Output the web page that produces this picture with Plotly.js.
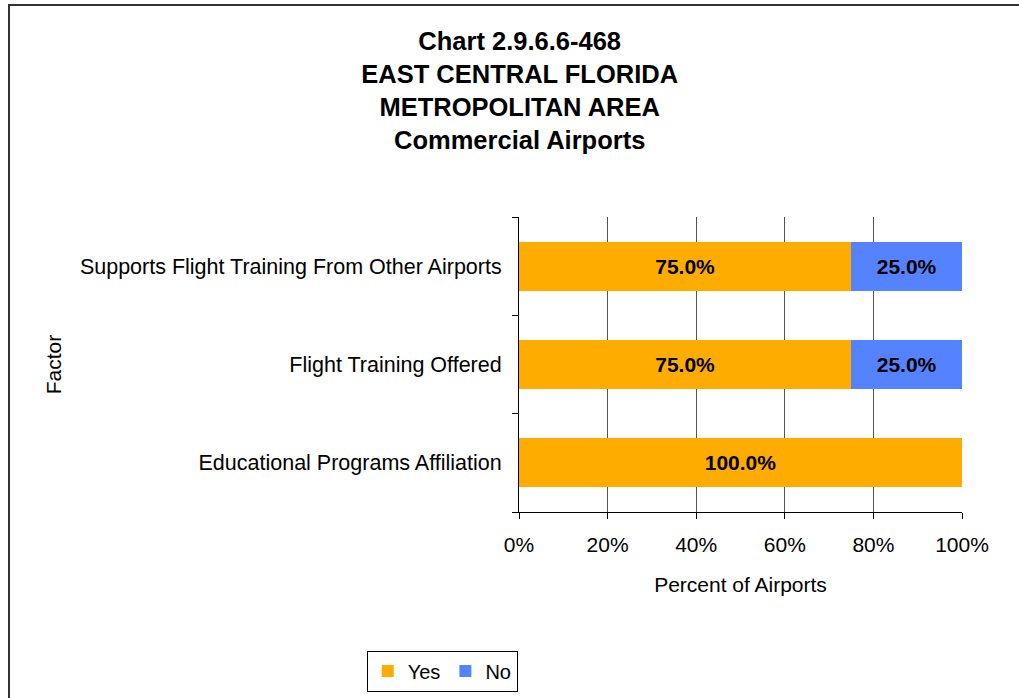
<!DOCTYPE html>
<html>
<head>
<meta charset="utf-8">
<script src="https://cdn.plot.ly/plotly-3.0.1.min.js"></script>
<style>
    body { margin: 0; background: #fff; }
    #chart { width: 1019px; height: 698px; }
    #frame {
        position: absolute; left: 8px; top: 4px; width: 1100px; height: 800px;
        border-left: 2px solid #333; border-top: 2px solid #333; pointer-events: none;
    }
</style>
</head>
<body>
<div id="chart"></div>
<div id="frame"></div>
<script>
    var factors = ['Educational Programs Affiliation', 'Flight Training Offered', 'Supports Flight Training From Other Airports'];
    var yesValues = [100, 75, 75];
    var noValues = [0, 25, 25];

    function labels(values) {
        return values.map(function (v) { return v > 0 ? v.toFixed(1) + '%' : ''; });
    }

    var font = 'Liberation Sans, Arial, sans-serif';

    var yes = {
        type: 'bar', orientation: 'h', name: 'Yes',
        y: factors, x: yesValues, text: labels(yesValues),
        textposition: 'inside', insidetextanchor: 'middle',
        textfont: {family: font, size: 21, color: '#000', weight: 'bold'},
        marker: {color: '#FFAC00'}
    };
    var no = {
        type: 'bar', orientation: 'h', name: 'No',
        y: factors, x: noValues, text: labels(noValues),
        textposition: 'inside', insidetextanchor: 'middle',
        textfont: {family: font, size: 21, color: '#000', weight: 'bold'},
        marker: {color: '#5583FF'}
    };

    var layout = {
        width: 1019, height: 698,
        margin: {l: 519, r: 57, t: 217, b: 186},
        barmode: 'stack', bargap: 0.5,
        paper_bgcolor: '#fff', plot_bgcolor: '#fff',
        font: {family: font, size: 21, color: '#000'},
        title: {
            text: '<b>Chart 2.9.6.6-468<br>EAST CENTRAL FLORIDA<br>METROPOLITAN AREA<br>Commercial Airports</b>',
            font: {family: font, size: 25.5, color: '#000'},
            x: 0.51, xanchor: 'center', y: 0.929, yanchor: 'top'
        },
        xaxis: {
            range: [0, 100], dtick: 20, ticksuffix: '%',
            showgrid: true, gridcolor: '#555', gridwidth: 1,
            zeroline: false, showline: true, linecolor: '#000', linewidth: 1,
            ticks: 'outside', ticklen: 6, tickcolor: '#000',
            ticklabelstandoff: 8, automargin: false,
            title: {text: 'Percent of Airports', font: {size: 21}, standoff: 22}
        },
        yaxis: {
            type: 'category', tickson: 'boundaries',
            showline: true, linecolor: '#000', linewidth: 1,
            ticks: 'outside', ticklen: 6, tickcolor: '#000',
            ticklabelstandoff: 12, automargin: false,
            tickfont: {size: 21.5},
            showgrid: false,
            title: {text: 'Factor', font: {size: 21}, standoff: 12}
        },
        showlegend: true,
        legend: {
            orientation: 'h', xref: 'container', x: 0.434, xanchor: 'center',
            yref: 'container', y: 0.068, yanchor: 'top',
            bordercolor: '#000', borderwidth: 1, font: {size: 20},
            itemwidth: 30, traceorder: 'normal'
        }
    };

    Plotly.newPlot('chart', [yes, no], layout, {displayModeBar: false});
</script>
</body>
</html>
